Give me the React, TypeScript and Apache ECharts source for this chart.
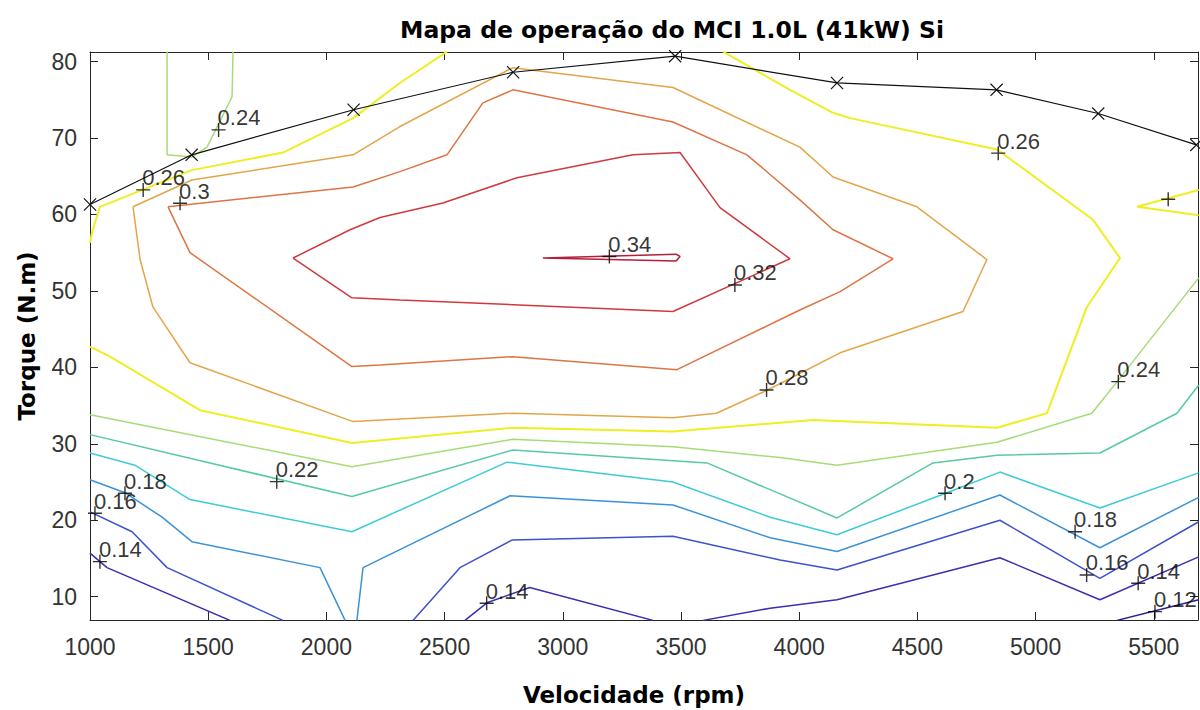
import { useEffect, useRef } from "react";
import * as echarts from "echarts";

// Full-load curve of the engine (rpm, N.m)
const maxTorqueRpm = [1000, 1430, 2115, 2790, 3475, 4160, 4835, 5265, 5680];
const maxTorqueNm = [61.3, 67.8, 73.7, 78.6, 80.7, 77.2, 76.3, 73.2, 69.1];

// Iso-efficiency contours, each segment as [rpm, torque] vertices
const iso034 = [[2916, 54.3], [3479, 54.8], [3496, 54.5], [3479, 53.9], [2916, 54.3]];
const iso032 = [
  [1859, 54.3], [2100, 58.0], [2227, 59.6], [2493, 61.5], [2806, 64.8], [3297, 67.8], [3496, 68.1],
  [3665, 60.9], [3961, 54.2], [3466, 47.3], [2789, 48.2], [2311, 48.8], [2108, 49.1], [1859, 54.3],
];
const iso030 = [
  [1330, 61.0], [2113, 63.6], [2311, 65.6], [2510, 67.8], [2662, 74.6], [2789, 76.3], [3466, 72.1],
  [3779, 67.8], [4003, 61.9], [4143, 58.0], [4397, 54.2], [4173, 49.9], [4003, 47.5], [3483, 39.7],
  [2789, 41.4], [2227, 40.3], [2108, 40.1], [1423, 55.0], [1330, 61.0],
];
const iso028 = [
  [1182, 61.0], [1431, 64.5], [2113, 67.8], [2311, 71.5], [2789, 79.2], [3466, 76.6], [4003, 68.8],
  [4143, 64.9], [4498, 61.0], [4794, 54.1], [4693, 47.3], [4173, 41.9], [3864, 37.0], [3650, 34.0],
  [3466, 33.4], [2789, 34.0], [2113, 32.9], [1423, 40.6], [1266, 47.9], [1212, 54.1], [1182, 61.0],
];
const iso026a = [
  [1000, 56.3], [1008, 57.6], [1042, 61.0], [1431, 65.8], [1816, 68.1], [2113, 72.6], [2311, 77.2], [2510, 81.3],
];
const iso026b = [
  [3678, 81.3], [3961, 76.3], [4143, 73.3], [4215, 72.6], [4837, 68.5], [5243, 59.3], [5357, 54.3],
  [5217, 47.9], [5048, 34.0], [4837, 32.1], [4058, 33.1], [3466, 31.6], [2789, 32.1], [2108, 30.1],
  [1465, 34.4], [1085, 41.4], [1000, 42.7],
];
const iso026c = [[5690, 63.2], [5429, 61.0], [5690, 59.9]];
const iso024a = [[1326, 81.3], [1326, 67.8], [1431, 67.5], [1495, 68.8], [1601, 75.4], [1605, 81.3]];
const iso024b = [
  [1000, 33.8], [2108, 27.0], [2789, 30.6], [3466, 29.6], [3919, 28.2], [4160, 27.2], [4837, 30.2],
  [5238, 34.0], [5344, 38.1], [5690, 51.7],
];
const iso022 = [
  [1000, 31.2], [2108, 23.1], [2789, 29.2], [3610, 27.5], [3877, 24.0], [4160, 20.3], [4566, 27.5],
  [4837, 28.5], [5272, 28.8], [5598, 34.0], [5690, 37.7],
];
const iso020 = [
  [1000, 28.8], [1190, 27.2], [1423, 22.7], [2108, 18.5], [2764, 27.6], [3466, 25.0], [3877, 20.4],
  [4160, 18.1], [4625, 23.6], [4849, 26.3], [5272, 21.6], [5690, 26.2],
];
const iso018a = [[1000, 25.3], [1148, 23.6], [1305, 20.4], [1431, 17.2], [1973, 13.8], [2079, 6.9]];
const iso018b = [
  [2129, 6.9], [2155, 13.8], [2777, 23.2], [3466, 22.0], [3877, 17.7], [4160, 15.9], [4849, 23.3],
  [5272, 16.4], [5690, 23.0],
];
const iso016a = [[1000, 21.1], [1178, 18.5], [1326, 13.8], [1816, 6.9]];
const iso016b = [
  [2366, 6.9], [2565, 13.8], [2785, 17.4], [3466, 17.9], [3919, 14.8], [4160, 13.5], [4849, 20.0],
  [5272, 12.4], [5690, 19.8],
];
const iso014a = [[1000, 15.7], [1072, 13.8], [1592, 6.9]];
const iso014b = [[2586, 6.9], [2679, 9.2], [2860, 11.2], [3382, 6.9]];
const iso014c = [[3593, 6.9], [3877, 8.5], [4160, 9.6], [4849, 15.1], [5272, 9.6], [5690, 15.2]];
const iso012 = [[5344, 6.9], [5690, 9.6]];

// Contour label anchors
const labelRpm = [1544, 1225, 1381, 4842, 3197, 3728, 3862, 5350, 5561, 1790, 1148, 1021, 1042, 2678, 4617, 5167, 5216, 5434, 5505];
const labelTorque = [71.06, 63.21, 61.47, 68.02, 54.49, 50.78, 37.04, 38.13, 61.99, 25.05, 23.53, 20.91, 14.58, 9.14, 23.53, 18.5, 12.84, 11.75, 8.04];
const labelText = ["0.24", "0.26", "0.3", "0.26", "0.34", "0.32", "0.28", "0.24", "", "0.22", "0.18", "0.16", "0.14", "0.14", "0.2", "0.18", "0.16", "0.14", "0.12"];

const xTicks = [1000, 1500, 2000, 2500, 3000, 3500, 4000, 4500, 5000, 5500];
const yTicks = [10, 20, 30, 40, 50, 60, 70, 80];

const contourSets = [
  { color: "#2b1e8c", width: 1.5, segments: [iso012] },
  { color: "#3a30b0", width: 1.5, segments: [iso014a, iso014b, iso014c] },
  { color: "#3d52cc", width: 1.5, segments: [iso016a, iso016b] },
  { color: "#3c92d8", width: 1.5, segments: [iso018a, iso018b] },
  { color: "#3ecbd6", width: 1.5, segments: [iso020] },
  { color: "#56c9a6", width: 1.5, segments: [iso022] },
  { color: "#a6dc76", width: 1.5, segments: [iso024a, iso024b] },
  { color: "#eeee22", width: 2, segments: [iso026a, iso026b, iso026c] },
  { color: "#e3a54a", width: 1.5, segments: [iso028] },
  { color: "#de7444", width: 1.5, segments: [iso030] },
  { color: "#d03a3e", width: 1.5, segments: [iso032] },
  { color: "#b2203a", width: 1.5, segments: [iso034] },
];

const plusMark = "path://M0,6.3H14V7.7H0Z M6.3,0H7.7V14H6.3Z";
const crossMark = "path://M0.9,0L7,6.1L13.1,0L14,0.9L7.9,7L14,13.1L13.1,14L7,7.9L0.9,14L0,13.1L6.1,7L0,0.9Z";

const axisColor = "#262626";
const tickFont = { fontFamily: "Liberation Sans", fontSize: 23, color: "#333333" };
const plainNumber = (v: number) => String(v);

export default function App() {
  const ref = useRef<HTMLDivElement>(null);

  useEffect(() => {
    document.body.style.margin = "0";
    if (!ref.current) return;
    const chart = echarts.init(ref.current, null, { renderer: "svg" });

    const series: any[] = [];
    contourSets.forEach((set) => {
      set.segments.forEach((seg) => {
        series.push({
          type: "line",
          data: seg,
          symbol: "none",
          silent: true,
          lineStyle: { color: set.color, width: set.width },
          z: 2,
        });
      });
    });

    series.push({
      type: "line",
      data: maxTorqueRpm.map((r, i) => [r, maxTorqueNm[i]]),
      symbol: crossMark,
      symbolSize: 13,
      showSymbol: true,
      showAllSymbol: true,
      lineStyle: { color: "#111111", width: 1.2 },
      itemStyle: { color: "#111111" },
      silent: true,
      z: 3,
    });

    series.push({
      type: "scatter",
      data: labelRpm.map((r, i) => [r, labelTorque[i]]),
      symbol: plusMark,
      symbolSize: 14,
      itemStyle: { color: "#000000" },
      silent: true,
      z: 4,
      label: {
        show: true,
        formatter: (p: any) => labelText[p.dataIndex],
        position: [6, 6],
        align: "left",
        verticalAlign: "bottom",
        fontFamily: "Liberation Sans",
        fontSize: 22,
        color: "#000000",
      },
    });

    chart.setOption({
      animation: false,
      backgroundColor: "#ffffff",
      grid: { left: 90, right: 2, top: 52, bottom: 90, containLabel: false },
      graphic: [
        {
          type: "text",
          x: 672,
          y: 30,
          style: {
            text: "Mapa de operação do MCI 1.0L (41kW) Si",
            font: 'bold 23.5px "DejaVu Sans"',
            textAlign: "center",
            textVerticalAlign: "middle",
            fill: "#000000",
          },
        },
        {
          type: "text",
          x: 634,
          y: 695,
          style: {
            text: "Velocidade (rpm)",
            font: 'bold 23px "DejaVu Sans"',
            textAlign: "center",
            textVerticalAlign: "middle",
            fill: "#000000",
          },
        },
      ],
      xAxis: [
        {
          type: "value",
          min: 1000,
          max: 5687,
          axisLine: { show: true, onZero: false, lineStyle: { color: axisColor, width: 1 } },
          axisTick: { show: true, inside: true, length: 8, customValues: xTicks, lineStyle: { color: axisColor } },
          axisLabel: { show: true, customValues: xTicks, margin: 15, formatter: plainNumber, ...tickFont },
          splitLine: { show: false },
        },
        {
          type: "value",
          position: "top",
          min: 1000,
          max: 5687,
          axisLine: { show: true, onZero: false, lineStyle: { color: axisColor, width: 1 } },
          axisTick: { show: true, inside: true, length: 8, customValues: xTicks, lineStyle: { color: axisColor } },
          axisLabel: { show: false },
          splitLine: { show: false },
        },
      ],
      yAxis: [
        {
          type: "value",
          min: 6.95,
          max: 81.25,
          name: "Torque (N.m)",
          nameLocation: "middle",
          nameGap: 52,
          nameRotate: 90,
          nameTextStyle: { fontFamily: "DejaVu Sans", fontWeight: "bold", fontSize: 23, color: "#000000" },
          axisLine: { show: true, onZero: false, lineStyle: { color: axisColor, width: 1 } },
          axisTick: { show: true, inside: true, length: 8, customValues: yTicks, lineStyle: { color: axisColor } },
          axisLabel: { show: true, customValues: yTicks, margin: 13, formatter: plainNumber, ...tickFont },
          splitLine: { show: false },
        },
        {
          type: "value",
          position: "right",
          min: 6.95,
          max: 81.25,
          axisLine: { show: true, onZero: false, lineStyle: { color: axisColor, width: 1 } },
          axisTick: { show: true, inside: true, length: 8, customValues: yTicks, lineStyle: { color: axisColor } },
          axisLabel: { show: false },
          splitLine: { show: false },
        },
      ],
      series,
    });

    return () => chart.dispose();
  }, []);

  return <div ref={ref} style={{ width: 1200, height: 710 }} />;
}
